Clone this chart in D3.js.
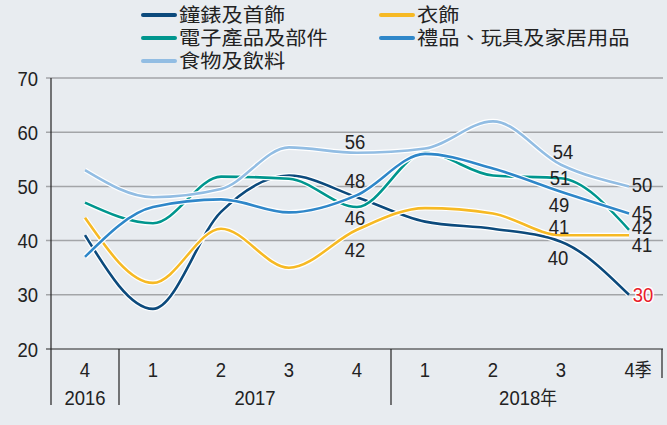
<!DOCTYPE html>
<html>
<head>
<meta charset="utf-8">
<script src="https://cdn.jsdelivr.net/npm/d3@7"></script>
<style>
  html, body { margin: 0; padding: 0; background: #e8ecf0; }
  svg { display: block; }
  .num { font-family: "Liberation Sans", Arial, sans-serif; font-size: 21px; fill: #222; }
  .cjk { font-family: "Noto Sans CJK TC", "Noto Sans", sans-serif; fill: #222; }
</style>
</head>
<body>
<svg width="667" height="425"></svg>
<script>
// quarters on the x axis
const quarters = ["4", "1", "2", "3", "4", "1", "2", "3", "4"];
const years = [
  { label: "2016", from: 0, to: 0 },
  { label: "2017", from: 1, to: 4 },
  { label: "2018", from: 5, to: 8 }
];
const yTicks = [20, 30, 40, 50, 60, 70];

// series values
const watches = [41, 27.4, 45.3, 52, 48, 43.5, 42.2, 39.8, 30];
const clothing = [44.2, 32.2, 42.2, 35, 42, 46, 45, 41, 41];
const electronics = [47, 43.2, 51.8, 51.4, 46.2, 56.2, 52, 51.5, 42];
const gifts = [37, 46.2, 47.6, 45.2, 48.4, 56, 53.3, 49, 45];
const food = [53, 48, 49.5, 57.2, 56.2, 57, 62, 54, 50];

const seriesNames = ["鐘錶及首飾", "衣飾", "電子產品及部件", "禮品、玩具及家居用品", "食物及飲料"];
const seriesValues = [watches, clothing, electronics, gifts, food];
const seriesColors = ["#0c4a7c", "#f6b924", "#00968e", "#2f87c9", "#92bde3"];

// value labels: quarter index, text
const valueLabels = [
  { i: 4, text: "56", v: 56 }, { i: 4, text: "48", v: 48 },
  { i: 4, text: "46", v: 46 }, { i: 4, text: "42", v: 42 },
  { i: 7, text: "54", v: 54 }, { i: 7, text: "51", v: 51 },
  { i: 7, text: "49", v: 49 }, { i: 7, text: "41", v: 41 },
  { i: 7, text: "40", v: 40 },
  { i: 8, text: "50", v: 50 }, { i: 8, text: "45", v: 45 },
  { i: 8, text: "42", v: 42 }, { i: 8, text: "41", v: 41 },
  { i: 8, text: "30", v: 30 }
];
// label nudges in px [dx, dy]
const labelNudge = [
  [-2, -12], [-2, -17], [-2, 9], [-2, 20],
  [2, -13], [-1, -4], [-2, 13], [-2, -9], [-3, 17],
  [13, -2], [13, -1], [13, -3], [13, 9], [14, 0]
];

const svg = d3.select("svg");
const plotLeft = 51, plotRight = 663, plotTop = 78, plotBottom = 349;
const squeeze = 0.88; // condensed look of the number font

const x = d3.scaleBand().domain(d3.range(quarters.length)).range([plotLeft, plotRight]);
const y = d3.scaleLinear().domain([20, 70]).range([plotBottom, plotTop]);
const cx = i => x(i) + x.bandwidth() / 2;

function numText(g, px, py) {
  return g.attr("class", "num")
    .attr("transform", (d, i) => `translate(${px(d, i)},${py(d, i)}) scale(${squeeze},1)`)
    .attr("dy", "0.36em");
}

// gridlines
svg.append("g")
  .selectAll("line")
  .data(yTicks.filter(t => t > 20))
  .join("line")
  .attr("x1", plotLeft - 5).attr("x2", plotRight)
  .attr("y1", d => y(d)).attr("y2", d => y(d))
  .attr("stroke", "#a3a5a8").attr("stroke-width", 1.5);

// y tick labels
numText(svg.append("g").selectAll("text").data(yTicks).join("text"),
  () => 38, d => y(d))
  .attr("text-anchor", "end")
  .text(d => d);

// axes lines
svg.append("line")
  .attr("x1", plotLeft).attr("x2", plotLeft).attr("y1", plotTop).attr("y2", 405)
  .attr("stroke", "#222").attr("stroke-width", 1.2);
svg.append("line")
  .attr("x1", plotLeft - 5).attr("x2", plotRight).attr("y1", plotBottom).attr("y2", plotBottom)
  .attr("stroke", "#222").attr("stroke-width", 1.2);

// year separators
const seps = years.slice(1).map(d => x(d.from));
svg.append("g")
  .selectAll("line")
  .data(seps)
  .join("line")
  .attr("x1", d => d).attr("x2", d => d)
  .attr("y1", plotBottom).attr("y2", 405)
  .attr("stroke", "#222").attr("stroke-width", 1.2);
svg.append("line")
  .attr("x1", plotRight - 1).attr("x2", plotRight - 1).attr("y1", plotBottom).attr("y2", 378)
  .attr("stroke", "#222").attr("stroke-width", 1.2);

// quarter labels
const qLabels = numText(svg.append("g").selectAll("text").data(quarters).join("text"),
  (d, i) => cx(i) + (i === quarters.length - 1 ? 9 : 0), () => 369)
  .attr("text-anchor", "middle")
  .text(d => d);
qLabels.filter((d, i) => i === quarters.length - 1)
  .append("tspan")
  .attr("class", "cjk")
  .style("font-size", "19px")
  .text("季");

// year labels
const yLabels = numText(svg.append("g").selectAll("text").data(years).join("text"),
  d => (x(d.from) + x(d.to) + x.bandwidth()) / 2 + (d.label === "2018" ? 1 : 0), () => 397)
  .attr("text-anchor", "middle")
  .text(d => d.label);
yLabels.filter(d => d.label === "2018")
  .append("tspan")
  .attr("class", "cjk")
  .style("font-size", "19px")
  .text("年");

// lines
const line = d3.line()
  .x((d, i) => cx(i))
  .y(d => y(d))
  .curve(d3.curveMonotoneX);

const lines = svg.append("g");
seriesValues.forEach((vals, k) => {
  lines.append("path")
    .attr("d", line(vals))
    .attr("fill", "none")
    .attr("stroke", "#fff")
    .attr("stroke-width", 5);
  lines.append("path")
    .attr("d", line(vals))
    .attr("fill", "none")
    .attr("stroke", seriesColors[k])
    .attr("stroke-width", 2.6);
});

// value labels
numText(svg.append("g").selectAll("text").data(valueLabels).join("text"),
  (d, j) => cx(d.i) + labelNudge[j][0], (d, j) => y(d.v) + labelNudge[j][1])
  .attr("text-anchor", "middle")
  .style("fill", d => d.i === 8 && d.v === 30 ? "#e8202a" : "#222")
  .style("stroke", d => d.i === 8 && d.v === 30 ? "#fff" : "none")
  .style("stroke-width", 3)
  .style("paint-order", "stroke")
  .text(d => d.text);

// legend
const legendPos = [[143, 15], [381, 15], [143, 38], [381, 38], [143, 61]];
const legend = svg.append("g");
seriesNames.forEach((name, k) => {
  const [lx, ly] = legendPos[k];
  legend.append("line")
    .attr("x1", lx).attr("x2", lx + 32)
    .attr("y1", ly).attr("y2", ly)
    .attr("stroke", seriesColors[k])
    .attr("stroke-width", 4)
    .attr("stroke-linecap", "round");
  legend.append("text")
    .attr("class", "cjk")
    .attr("transform", `translate(${lx + 36},${ly}) scale(1.12,1)`)
    .attr("dy", "0.36em")
    .style("font-size", "19px")
    .text(name);
});
</script>
</body>
</html>
